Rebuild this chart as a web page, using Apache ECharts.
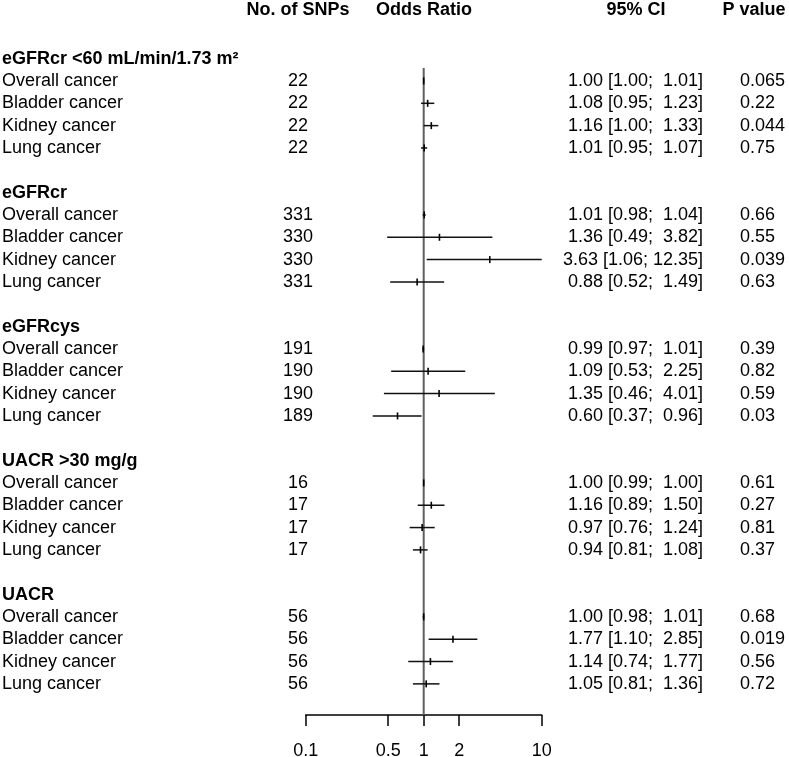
<!DOCTYPE html>
<html>
<head>
<meta charset="utf-8">
<script src="https://cdn.jsdelivr.net/npm/echarts@6/dist/echarts.min.js"></script>
<style>html,body{margin:0;padding:0;background:#fff}#c{width:789px;height:757px}</style>
</head>
<body>
<div id="c"></div>
<script>
// ---- data ----
const columnHeaders = ['No. of SNPs', 'Odds Ratio', '95% CI', 'P value'];
const groups = ['eGFRcr <60 mL/min/1.73 m\u00B2', 'eGFRcr', 'eGFRcys', 'UACR >30 mg/g', 'UACR'];
const outcomes = ['Overall cancer', 'Bladder cancer', 'Kidney cancer', 'Lung cancer'];
const nSnps = [22, 22, 22, 22, 331, 330, 330, 331, 191, 190, 190, 189, 16, 17, 17, 17, 56, 56, 56, 56];
const oddsRatio = [1.00, 1.08, 1.16, 1.01, 1.01, 1.36, 3.63, 0.88, 0.99, 1.09, 1.35, 0.60, 1.00, 1.16, 0.97, 0.94, 1.00, 1.77, 1.14, 1.05];
const ciLower = [1.00, 0.95, 1.00, 0.95, 0.98, 0.49, 1.06, 0.52, 0.97, 0.53, 0.46, 0.37, 0.99, 0.89, 0.76, 0.81, 0.98, 1.10, 0.74, 0.81];
const ciUpper = [1.01, 1.23, 1.33, 1.07, 1.04, 3.82, 12.35, 1.49, 1.01, 2.25, 4.01, 0.96, 1.00, 1.50, 1.24, 1.08, 1.01, 2.85, 1.77, 1.36];
const pValues = ['0.065', '0.22', '0.044', '0.75', '0.66', '0.55', '0.039', '0.63', '0.39', '0.82', '0.59', '0.03', '0.61', '0.27', '0.81', '0.37', '0.68', '0.019', '0.56', '0.72'];
const xTicks = [0.1, 0.5, 1, 2, 10];

// ---- layout ----
const X_MIN = 0.1, X_MAX = 10;
const FONT = '"Liberation Sans", Arial, sans-serif';
const FS = 18;
const COL = { label: 2, snp: 298, orHead: 424, ciRight: 703, ciHead: 636, pLeft: 740, pHead: 754 };
const HEADER_ROW = -1.18;
const REF_TOP_ROW = 1.42;
const Y_MIN = -1.626, Y_MAX = 30.394;

const rowOf = i => 2 + 6 * Math.floor(i / 4) + (i % 4);
const fmt = v => v.toFixed(2);
const padL = (s, n) => (' '.repeat(Math.max(0, n - s.length)) + s);
const ciText = i => fmt(oddsRatio[i]) + ' [' + fmt(ciLower[i]) + '; ' + padL(fmt(ciUpper[i]), 5) + ']';

// text items
const texts = [];
texts.push({ row: HEADER_ROW, x: COL.snp, align: 'center', bold: true, t: columnHeaders[0] });
texts.push({ row: HEADER_ROW, x: COL.orHead, align: 'center', bold: true, t: columnHeaders[1] });
texts.push({ row: HEADER_ROW, x: COL.ciHead, align: 'center', bold: true, t: columnHeaders[2] });
texts.push({ row: HEADER_ROW, x: COL.pHead, align: 'center', bold: true, t: columnHeaders[3] });
groups.forEach((g, gi) => texts.push({ row: 1 + 6 * gi, x: COL.label, align: 'left', bold: true, t: g }));
nSnps.forEach((n, i) => {
  const r = rowOf(i);
  texts.push({ row: r, x: COL.label, align: 'left', t: outcomes[i % 4] });
  texts.push({ row: r, x: COL.snp, align: 'center', t: String(n) });
  texts.push({ row: r, x: COL.ciRight, align: 'right', t: ciText(i) });
  texts.push({ row: r, x: COL.pLeft, align: 'left', t: pValues[i] });
});

const chart = echarts.init(document.getElementById('c'), null, { renderer: 'canvas' });
chart.setOption({
  animation: false,
  backgroundColor: '#ffffff',
  grid: { left: 305.7, right: 247.3, top: 0, bottom: 42, containLabel: false, outerBoundsMode: 'none' },
  xAxis: {
    type: 'log', logBase: 10, min: X_MIN, max: X_MAX,
    splitLine: { show: false },
    axisLine: { show: true, onZero: false, lineStyle: { color: '#000', width: 1.5 } },
    axisTick: { show: true, length: 11, customValues: xTicks, lineStyle: { color: '#000', width: 1.5 } },
    axisLabel: { show: true, margin: 27, customValues: xTicks, color: '#000', fontSize: FS, fontFamily: FONT,
      formatter: v => String(v) },
    minorTick: { show: false }
  },
  yAxis: { type: 'value', inverse: true, min: Y_MIN, max: Y_MAX, show: false },
  series: [
    {
      type: 'line', data: [[1, REF_TOP_ROW], [1, Y_MAX]], symbol: 'none',
      lineStyle: { color: '#5f5f5f', width: 2 }, z: 1, silent: true
    },
    {
      type: 'custom', z: 3, silent: true,
      data: oddsRatio.map((v, i) => [v, rowOf(i)]),
      encode: { x: 0, y: 1 },
      renderItem: (params, api) => {
        const i = params.dataIndex;
        const r = rowOf(i);
        const a = api.coord([Math.max(ciLower[i], X_MIN), r]);
        const b = api.coord([Math.min(ciUpper[i], X_MAX), r]);
        const m = api.coord([oddsRatio[i], r]);
        return {
          type: 'group',
          children: [
            { type: 'line', shape: { x1: a[0], y1: a[1], x2: b[0], y2: b[1] }, style: { stroke: '#111', lineWidth: 1.5 } },
            { type: 'line', shape: { x1: m[0], y1: m[1] - 3.5, x2: m[0], y2: m[1] + 3.5 }, style: { stroke: '#000', lineWidth: 1.6 } }
          ]
        };
      }
    },
    {
      type: 'custom', z: 4, silent: true, clip: false,
      data: texts.map(t => [1, t.row]),
      encode: { x: 0, y: 1 },
      renderItem: (params, api) => {
        const t = texts[params.dataIndex];
        const y = api.coord([1, t.row])[1];
        return {
          type: 'text',
          style: {
            x: t.x, y: y, text: t.t, fill: '#000',
            font: (t.bold ? 'bold ' : '') + FS + 'px ' + FONT,
            align: t.align, verticalAlign: 'middle'
          }
        };
      }
    }
  ]
});
</script>
</body>
</html>
